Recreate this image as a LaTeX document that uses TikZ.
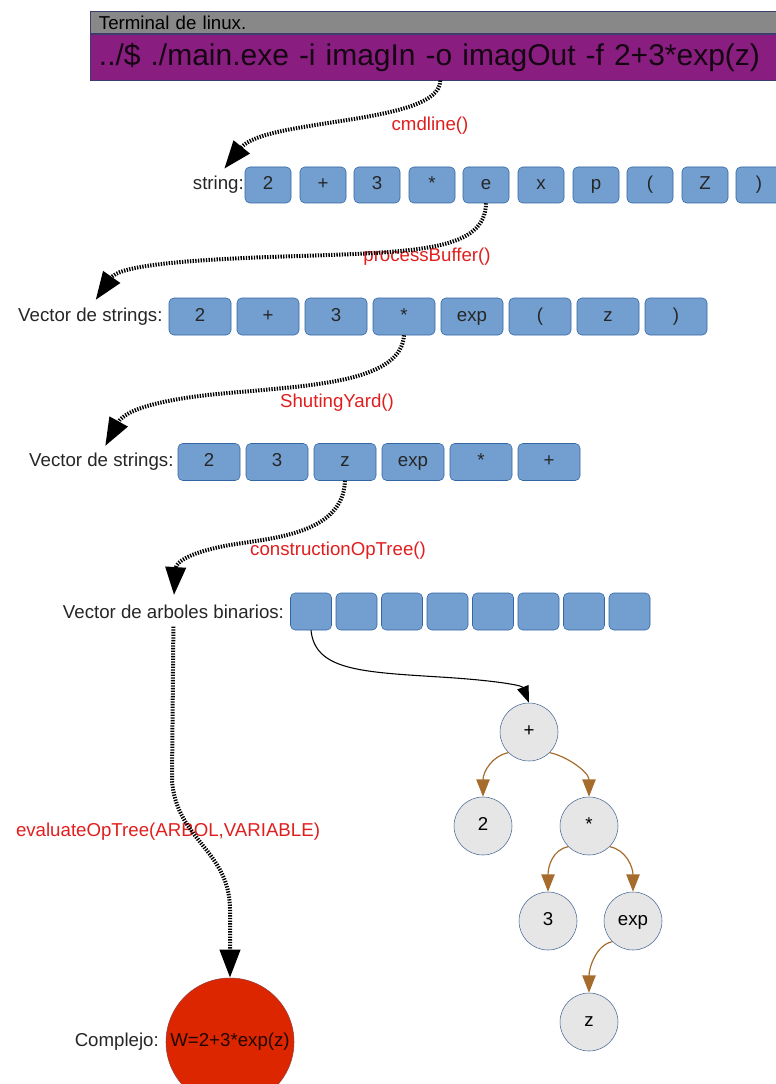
\documentclass[tikz,border=0pt]{standalone}
\usepackage{fontspec}
\setmainfont{Liberation Sans}
\usetikzlibrary{positioning, arrows.meta}

\definecolor{cellblue}{RGB}{114,159,207}
\definecolor{cellline}{RGB}{52,101,164}
\definecolor{termgray}{RGB}{136,136,136}
\definecolor{termpurple}{RGB}{138,30,128}
\definecolor{termline}{RGB}{60,60,110}
\definecolor{callred}{RGB}{225,30,30}
\definecolor{treebrown}{RGB}{165,108,45}
\definecolor{leafgray}{RGB}{230,230,230}
\definecolor{leafline}{RGB}{70,100,150}
\definecolor{resred}{RGB}{220,38,0}
\definecolor{resline}{RGB}{150,60,60}

\begin{document}
\begin{tikzpicture}[x=0.75pt, y=-0.75pt, font=\fontsize{14pt}{16pt}\selectfont]
    \tikzstyle{termbody} = [rectangle, draw=termline, fill=termpurple, text=black!85!termpurple, minimum height=34.5pt, text width=512pt, align=left, inner xsep=6.5pt, inner ysep=0pt, font=\fontsize{22.5pt}{26pt}\selectfont]
    \tikzstyle{termhead} = [rectangle, draw=termline, fill=termgray, minimum height=16.5pt, text width=512pt, align=left, inner xsep=6.5pt, inner ysep=0pt]
    \tikzstyle{chr} = [rectangle, rounded corners=3.5pt, draw=cellline, fill=cellblue, text=black!85, minimum width=34.5pt, minimum height=27pt, inner sep=0pt, text height=10pt, text depth=3pt]
    \tikzstyle{word} = [chr, minimum width=46.5pt, minimum height=27.75pt]
    \tikzstyle{tree} = [chr, minimum width=30.75pt, minimum height=27.75pt]
    \tikzstyle{lbl} = [text=black!85, inner sep=0pt]
    \tikzstyle{call} = [text=callred, inner sep=1pt]
    \tikzstyle{leaf} = [circle, draw=leafline, fill=leafgray, minimum size=43.5pt, inner sep=0pt, text height=10pt, text depth=3pt]
    \tikzstyle{result} = [circle, draw=resline, fill=resred, text=black!85!resred, minimum size=96pt, inner sep=0pt]
    \tikzstyle{flow} = [line width=3pt, dash pattern=on 1pt off 1pt, -{Triangle[length=21pt, width=15pt]}]
    \tikzstyle{link} = [line width=0.8pt, -{Triangle[length=12.5pt, width=9pt]}]
    \tikzstyle{child} = [treebrown, line width=0.9pt, -{Triangle[length=13pt, width=10pt]}]

    \useasboundingbox (0,0) rectangle (775,1084);

    % terminal
    \node[termbody, anchor=north west] (term) at (90,34) {../\$ ./main.exe -i imagIn -o imagOut -f 2+3*exp(z)};
    \node[termhead, anchor=south west] (termtitle) at (term.north west) {Terminal de linux.};

    % string
    \node[chr] (s1) at (268,185) {2};
    \node[chr] (s2) at (323,185) {+};
    \node[chr] (s3) at (377,185) {3};
    \node[chr] (s4) at (432,185) {*};
    \node[chr] (s5) at (486,185) {e};
    \node[chr] (s6) at (541,185) {x};
    \node[chr] (s7) at (596,185) {p};
    \node[chr] (s8) at (650,185) {(};
    \node[chr] (s9) at (705,185) {Z};
    \node[chr] (s10) at (759,185) {)};
    \node[lbl, left=0.5pt of s1] (strlbl) {string:};

    % vector de strings
    \node[word] (v1) at (200,316.5) {2};
    \node[word] (v2) at (268,316.5) {+};
    \node[word] (v3) at (336,316.5) {3};
    \node[word] (v4) at (404,316.5) {*};
    \node[word] (v5) at (472,316.5) {exp};
    \node[word] (v6) at (540,316.5) {(};
    \node[word] (v7) at (608,316.5) {z};
    \node[word] (v8) at (676,316.5) {)};
    \node[lbl, left=4.5pt of v1] (vlbl) {Vector de strings:};

    % postfija
    \node[word] (w1) at (209,462) {2};
    \node[word] (w2) at (277,462) {3};
    \node[word] (w3) at (345,462) {z};
    \node[word] (w4) at (413,462) {exp};
    \node[word] (w5) at (481,462) {*};
    \node[word] (w6) at (549,462) {+};
    \node[lbl, left=3pt of w1] (wlbl) {Vector de strings:};

    % vector de arboles
    \node[tree] (b1) at (311,611.5) {};
    \node[tree] (b2) at (356.5,611.5) {};
    \node[tree] (b3) at (402,611.5) {};
    \node[tree] (b4) at (447.5,611.5) {};
    \node[tree] (b5) at (493,611.5) {};
    \node[tree] (b6) at (538.5,611.5) {};
    \node[tree] (b7) at (584,611.5) {};
    \node[tree] (b8) at (629.5,611.5) {};
    \node[lbl, left=4.5pt of b1] (blbl) {Vector de arboles binarios:};

    % arbol
    \node[leaf] (plus) at (529,732) {+};
    \node[leaf] (two) at (483,826) {2};
    \node[leaf] (mul) at (589,826) {*};
    \node[leaf] (three) at (548,921) {3};
    \node[leaf] (expn) at (633,921) {exp};
    \node[leaf] (zed) at (589,1022) {z};

    % resultado
    \node[result] (res) at (230,1042) {W=2+3*exp(z)};
    \node[lbl, left=5pt of res] (reslbl) {Complejo:};

    % funciones
    \node[call] (cmdcall) at (430,126) {cmdline()};
    \node[call] (bufcall) at (427,257) {processBuffer()};
    \node[call] (yardcall) at (337,403) {ShutingYard()};
    \node[call] (treecall) at (338,551) {constructionOpTree()};
    \node[call] (evalcall) at (168,832) {evaluateOpTree(ARBOL,VARIABLE)};

    \draw[flow, shorten >=7pt] (term.south) .. controls (440,125) and (265,118) .. (strlbl.north);
    \draw[flow, shorten >=7pt] (s5.south) .. controls (485,250) and (420,252) .. (300,256) .. controls (160,260) and (118,268) .. (vlbl.north);
    \draw[flow, shorten >=6pt] (v4.south) .. controls (401,380) and (320,385) .. (240,392) .. controls (160,398) and (125,410) .. (wlbl.north);
    \draw[flow, shorten >=7pt] (w3.south) .. controls (343,535) and (270,538) .. (230,545) .. controls (190,552) and (176,562) .. (blbl.north);
    \draw[flow, shorten <=6pt] (blbl.south) -- (172,780) .. controls (176,840) and (230,850) .. (230,910) -- (res.north);

    \draw[link] (b1.south) .. controls (315,670) and (360,672) .. (440,677) .. controls (490,680) and (522,685) .. (plus.north);
    \draw[child] (plus.225) .. controls +(-16,3) and +(0,-25) .. (two.north);
    \draw[child] (plus.-45) .. controls +(16,3) and +(0,-25) .. (mul.north);
    \draw[child] (mul.225) .. controls +(-16,3) and +(0,-25) .. (three.north);
    \draw[child] (mul.-45) .. controls +(16,3) and +(0,-25) .. (expn.north);
    \draw[child] (expn.225) .. controls +(-16,3) and +(0,-25) .. (zed.north);
\end{tikzpicture}
\end{document}
